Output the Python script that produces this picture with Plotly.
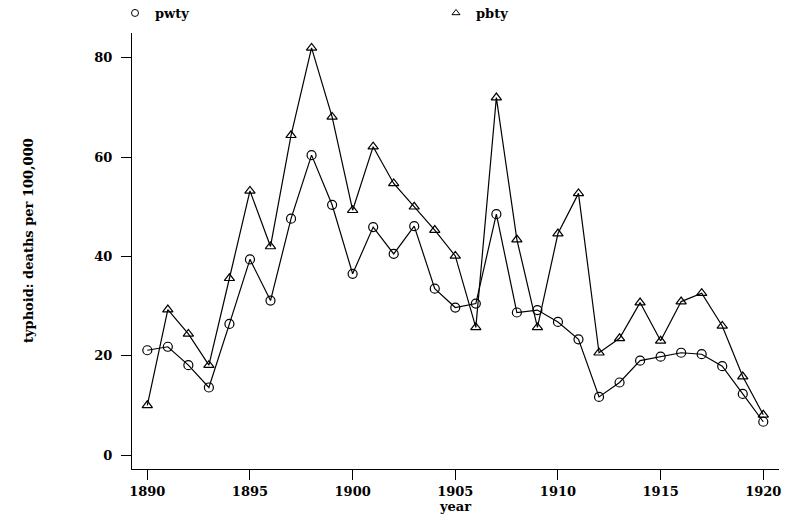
import plotly.graph_objects as go

years = list(range(1890, 1921))
pwty = [21.1, 21.8, 18.1, 13.6, 26.4, 39.4, 31.1, 47.6, 60.4, 50.4,
        36.5, 45.9, 40.5, 46.1, 33.5, 29.7, 30.5, 48.5, 28.7, 29.2,
        26.8, 23.3, 11.7, 14.6, 19.0, 19.8, 20.6, 20.3, 17.9, 12.3, 6.7]
pbty = [10.0, 29.3, 24.4, 18.1, 35.6, 53.2, 42.0, 64.4, 82.0, 68.1,
        49.3, 62.1, 54.7, 50.0, 45.3, 40.1, 25.7, 72.0, 43.4, 25.7,
        44.6, 52.7, 20.6, 23.5, 30.7, 23.0, 30.9, 32.6, 26.0, 15.8, 8.1]
x_ticks = [1890, 1895, 1900, 1905, 1910, 1915, 1920]
y_ticks = [0, 20, 40, 60, 80]

FONT = "DejaVu Serif"
W, H = 793, 522
ml, mr, mt, mb = 132, 14, 33, 53

fig = go.Figure()
line = dict(color="black", width=1.2)
fig.add_trace(go.Scatter(x=years, y=pwty, mode="lines+markers", line=line,
                         marker=dict(symbol="circle-open", size=9, color="black",
                                     line=dict(width=1.2, color="black")),
                         showlegend=False))
fig.add_trace(go.Scatter(x=years, y=pbty, mode="lines+markers", line=line,
                         marker=dict(symbol="triangle-up-open", size=9, color="black",
                                     line=dict(width=1.2, color="black")),
                         showlegend=False))
# legend-only entries
fig.add_trace(go.Scatter(x=[None], y=[None], mode="markers", name="pwty",
                         marker=dict(symbol="circle-open", size=7, color="black",
                                     line=dict(width=1, color="black"))))
fig.add_trace(go.Scatter(x=[None], y=[None], mode="markers", name="pbty",
                         marker=dict(symbol="triangle-up-open", size=7, color="black",
                                     line=dict(width=1, color="black"))))

pw = W - ml - mr
ph = H - mt - mb
fig.update_layout(
    width=W, height=H,
    margin=dict(l=ml, r=mr, t=mt, b=mb, pad=0, autoexpand=False),
    paper_bgcolor="white", plot_bgcolor="white",
    font=dict(family=FONT, size=13, color="black"),
    legend=dict(orientation="h", x=(115 - ml) / pw, xanchor="left", y=(H - mb - 13) / ph,
                yanchor="middle", entrywidth=276, entrywidthmode="pixels",
                font=dict(family=FONT, size=13, color="black", weight="bold"),
                itemwidth=30, bgcolor="rgba(0,0,0,0)", tracegroupgap=0),
    xaxis=dict(range=[1889.255, 1920.765], tickmode="array", tickvals=x_ticks,
               ticks="outside", ticklen=10, tickwidth=1.2, tickcolor="black",
               showline=True, linecolor="black", linewidth=1.2, mirror=False,
               showgrid=False, zeroline=False,
               tickfont=dict(family=FONT, size=13, color="black", weight="bold"),
               title=dict(text="year", standoff=2,
                          font=dict(family=FONT, size=13, color="black", weight="bold"))),
    yaxis=dict(range=[-2.82, 85.0], tickmode="array", tickvals=y_ticks,
               ticks="outside", ticklen=10, tickwidth=1.2, tickcolor="black",
               showline=True, linecolor="black", linewidth=1.2,
               showgrid=False, zeroline=False, ticklabelstandoff=6,
               tickfont=dict(family=FONT, size=13, color="black", weight="bold")),
    annotations=[dict(text="typhoid: deaths per 100,000", textangle=-90,
                      xref="paper", yref="paper",
                      x=(28 - ml) / pw, y=(H - mb - 241) / ph,
                      xanchor="center", yanchor="middle", showarrow=False,
                      font=dict(family=FONT, size=13, color="black", weight="bold"))],
)

fig.write_html("out.html")
